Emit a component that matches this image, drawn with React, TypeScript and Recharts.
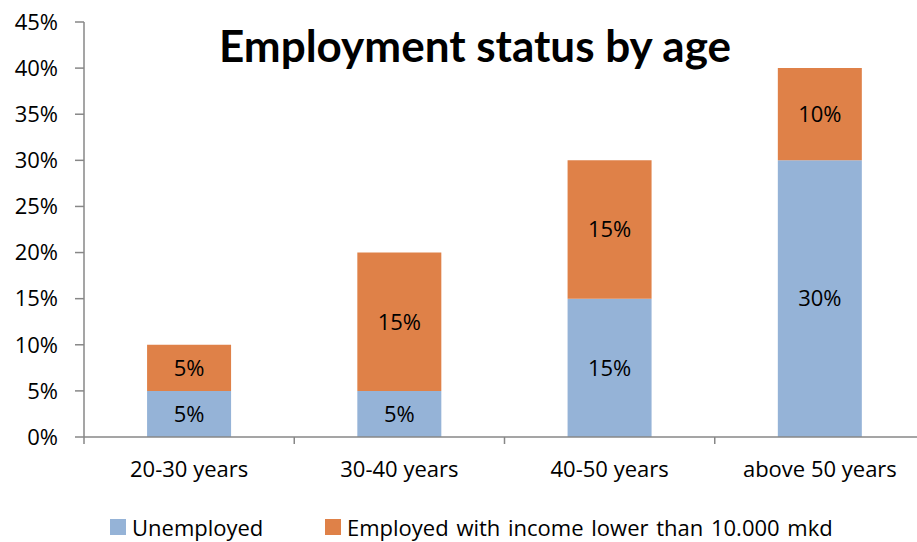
import { Bar, BarChart, LabelList, Legend, XAxis, YAxis } from "recharts";

const categories = ["20-30 years", "30-40 years", "40-50 years", "above 50 years"];
const unemployed = [5, 5, 15, 30];
const lowIncome = [5, 15, 15, 10];
const yTicks = [0, 5, 10, 15, 20, 25, 30, 35, 40, 45];

const SERIES = [
  { key: "unemployed", name: "Unemployed", color: "#95B3D7" },
  { key: "lowIncome", name: "Employed with income lower than 10.000 mkd", color: "#DF8148" },
];

const data = categories.map((name, i) => ({
  name,
  unemployed: unemployed[i],
  lowIncome: lowIncome[i],
}));

const FONT = "'Open Sans', Lato, sans-serif";
const TITLE_FONT = "Lato, 'Open Sans', sans-serif";
const TEXT_SIZE = 22;
const AXIS = "#878787";
const CHART_W = 930;
const CHART_H = 542;
const Y_AXIS_W = 84;
const MARGIN = { top: 22, right: 5, left: 0, bottom: 0 };
const PLOT_W = CHART_W - Y_AXIS_W - MARGIN.left - MARGIN.right;

function CategoryTick(props: any) {
  const { x, y, payload, index } = props;
  const band = PLOT_W / categories.length;
  return (
    <g>
      <line x1={x - band / 2} x2={x - band / 2} y1={y} y2={y + 7} stroke={AXIS} strokeWidth={1.5} />
      {index === categories.length - 1 && (
        <line x1={x + band / 2} x2={x + band / 2} y1={y} y2={y + 7} stroke={AXIS} strokeWidth={1.5} />
      )}
      <text x={x} y={y + 31} textAnchor="middle" dominantBaseline="central" fontSize={TEXT_SIZE} fill="#000" fontFamily={FONT}>
        {payload.value}
      </text>
    </g>
  );
}

function LegendContent() {
  return (
    <div style={{ height: 30, display: "flex", alignItems: "center", paddingLeft: 110, fontFamily: FONT, fontSize: TEXT_SIZE }}>
      {SERIES.map((s, i) => (
        <div key={s.key} style={{ display: "flex", alignItems: "center", width: i === 0 ? 215 : undefined, whiteSpace: "nowrap" }}>
          <span style={{ width: 16, height: 16, background: s.color, display: "inline-block", marginRight: 6 }} />
          <span style={{ color: "#000", wordSpacing: 2 }}>{s.name}</span>
        </div>
      ))}
    </div>
  );
}

export default function App() {
  return (
    <div
      style={{
        position: "fixed",
        top: 0,
        left: 0,
        width: 917,
        height: 542,
        overflow: "hidden",
        background: "#fff",
      }}
    >
      <div
        style={{
          position: "absolute",
          top: 20,
          left: 0,
          width: 950,
          textAlign: "center",
          fontFamily: TITLE_FONT,
          fontWeight: 700,
          fontSize: 44,
          lineHeight: "50px",
          color: "#000",
          zIndex: 2,
        }}
      >
        Employment status by age
      </div>
      <BarChart width={CHART_W} height={CHART_H} data={data} margin={MARGIN} barCategoryGap="30%">
        <YAxis
          width={Y_AXIS_W}
          domain={[0, 45]}
          ticks={yTicks}
          interval={0}
          tickFormatter={(v) => `${v}%`}
          tick={{ fontSize: TEXT_SIZE, fill: "#000", fontFamily: FONT }}
          tickSize={9}
          tickMargin={17}
          tickLine={{ stroke: AXIS, strokeWidth: 1.5 }}
          axisLine={{ stroke: AXIS, strokeWidth: 1.5 }}
        />
        <XAxis
          dataKey="name"
          height={75}
          interval={0}
          tickSize={0}
          tickMargin={0}
          tickLine={false}
          axisLine={{ stroke: AXIS, strokeWidth: 1.5 }}
          tick={<CategoryTick />}
        />
        <Legend verticalAlign="bottom" content={<LegendContent />} />
        {SERIES.map((s) => (
          <Bar key={s.key} dataKey={s.key} name={s.name} stackId="a" fill={s.color} isAnimationActive={false}>
            <LabelList
              dataKey={s.key}
              position="center"
              formatter={(v: any) => `${v}%`}
              style={{ fontSize: TEXT_SIZE, fill: "#000", fontFamily: FONT }}
            />
          </Bar>
        ))}
      </BarChart>
    </div>
  );
}
